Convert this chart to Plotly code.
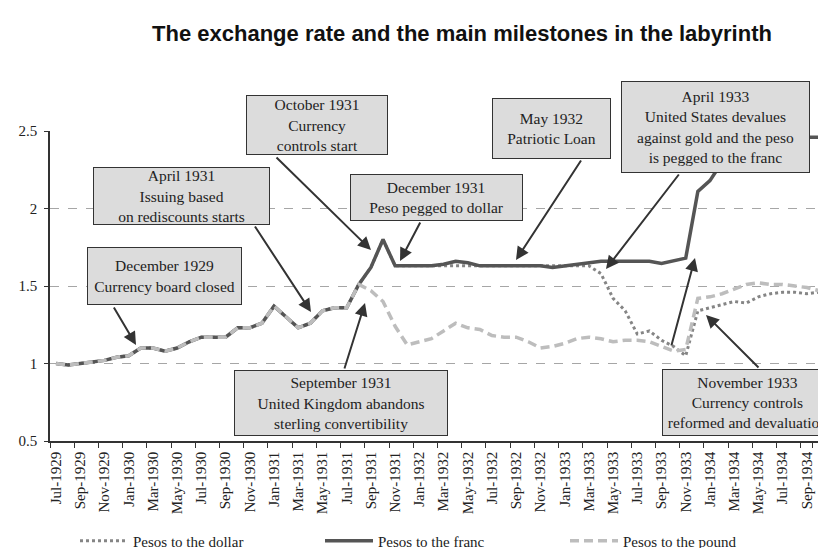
import plotly.graph_objects as go

months = [
    "Jul-1929", "Aug-1929", "Sep-1929", "Oct-1929", "Nov-1929", "Dec-1929",
    "Jan-1930", "Feb-1930", "Mar-1930", "Apr-1930", "May-1930", "Jun-1930",
    "Jul-1930", "Aug-1930", "Sep-1930", "Oct-1930", "Nov-1930", "Dec-1930",
    "Jan-1931", "Feb-1931", "Mar-1931", "Apr-1931", "May-1931", "Jun-1931",
    "Jul-1931", "Aug-1931", "Sep-1931", "Oct-1931", "Nov-1931", "Dec-1931",
    "Jan-1932", "Feb-1932", "Mar-1932", "Apr-1932", "May-1932", "Jun-1932",
    "Jul-1932", "Aug-1932", "Sep-1932", "Oct-1932", "Nov-1932", "Dec-1932",
    "Jan-1933", "Feb-1933", "Mar-1933", "Apr-1933", "May-1933", "Jun-1933",
    "Jul-1933", "Aug-1933", "Sep-1933", "Oct-1933", "Nov-1933", "Dec-1933",
    "Jan-1934", "Feb-1934", "Mar-1934", "Apr-1934", "May-1934", "Jun-1934",
    "Jul-1934", "Aug-1934", "Sep-1934", "Oct-1934",
]
tick_labels = months[::2]

pesos_dollar = [
    1.00, 0.99, 1.00, 1.01, 1.02, 1.04, 1.05, 1.10, 1.10, 1.08,
    1.10, 1.14, 1.17, 1.17, 1.17, 1.23, 1.23, 1.26, 1.37, 1.30,
    1.23, 1.26, 1.34, 1.36, 1.36, 1.51, 1.62, 1.80, 1.63, 1.63,
    1.63, 1.63, 1.63, 1.63, 1.63, 1.63, 1.63, 1.63, 1.63, 1.63,
    1.63, 1.63, 1.63, 1.63, 1.63, 1.58, 1.42, 1.34, 1.19, 1.21,
    1.15, 1.11, 1.05, 1.34, 1.36, 1.38, 1.40, 1.39, 1.43, 1.45,
    1.46, 1.46, 1.45, 1.46,
]
pesos_franc = [
    1.00, 0.99, 1.00, 1.01, 1.02, 1.04, 1.05, 1.10, 1.10, 1.08,
    1.10, 1.14, 1.17, 1.17, 1.17, 1.23, 1.23, 1.26, 1.37, 1.30,
    1.23, 1.26, 1.34, 1.36, 1.36, 1.51, 1.62, 1.80, 1.63, 1.63,
    1.63, 1.63, 1.64, 1.66, 1.65, 1.63, 1.63, 1.63, 1.63, 1.63,
    1.63, 1.62, 1.63, 1.64, 1.65, 1.66, 1.66, 1.66, 1.66, 1.66,
    1.645, 1.66, 1.68, 2.11, 2.18, 2.30, 2.36, 2.40, 2.42, 2.44,
    2.45, 2.46, 2.46, 2.46,
]
pesos_pound = [
    1.00, 0.99, 1.00, 1.01, 1.02, 1.04, 1.05, 1.10, 1.10, 1.08,
    1.10, 1.14, 1.17, 1.17, 1.17, 1.23, 1.23, 1.26, 1.37, 1.30,
    1.23, 1.26, 1.34, 1.36, 1.36, 1.51, 1.47, 1.40, 1.24, 1.12,
    1.14, 1.16, 1.21, 1.26, 1.23, 1.22, 1.18, 1.17, 1.17, 1.14,
    1.10, 1.11, 1.13, 1.16, 1.17, 1.16, 1.14, 1.15, 1.15, 1.14,
    1.11, 1.08, 1.09, 1.42, 1.43, 1.45, 1.48, 1.51, 1.52, 1.51,
    1.51, 1.50, 1.49, 1.47,
]

SERIF = "Liberation Serif, Times New Roman, serif"

# plot-area geometry (pixels)
L, R, T, B = 42, 817, 123, 433
W, H = R - L, B - T


def px(x):
    return (x - L) / W


def py(y):
    return (B - y) / H


fig = go.Figure()
fig.add_trace(go.Scatter(
    x=months, y=pesos_dollar, mode="lines", name="Pesos to the dollar",
    line=dict(color="#858585", width=3, dash="3px,3px")))
fig.add_trace(go.Scatter(
    x=months, y=pesos_franc, mode="lines", name="Pesos to the franc",
    line=dict(color="#555555", width=3.5)))
fig.add_trace(go.Scatter(
    x=months, y=pesos_pound, mode="lines", name="Pesos to the pound",
    line=dict(color="#bdbdbd", width=3.5, dash="9px,5px")))

boxes = [
    ("December 1929<br>Currency board closed", 79, 234, 239, 297),
    ("April 1931<br>Issuing based<br>on rediscounts starts", 85, 262, 159, 217),
    ("October 1931<br>Currency<br>controls start", 238, 380, 87, 147),
    ("December 1931<br>Peso pegged to dollar", 342, 515, 166, 213),
    ("May 1932<br>Patriotic Loan", 484, 603, 90, 151),
    ("April 1933<br>United States devalues<br>against gold and the peso<br>is pegged to the franc", 613, 802, 73, 165),
    ("September 1931<br>United Kingdom abandons<br>sterling convertibility", 226, 440, 362, 428),
    ("November 1933<br>Currency controls<br>reformed and devaluation", 654, 825, 361, 428),
]

# arrows: (head_x, head_y, tail_x, tail_y) in pixels
arrows = [
    (128, 337, 105, 298),
    (303, 304, 246, 217),
    (363, 242, 267, 148),
    (392, 253, 413, 213),
    (508, 252, 574, 151),
    (598, 261, 672, 165),
    (687, 250, 663, 339),
    (698, 307, 752, 361),
    (357, 295, 336, 362),
]

annotations = []
for hx, hy, tx, ty in arrows:
    annotations.append(dict(
        text="", xref="paper", yref="paper", x=px(hx), y=py(hy),
        ax=tx - hx, ay=ty - hy, showarrow=True, arrowhead=2,
        arrowsize=1.3, arrowwidth=2, arrowcolor="#333333", standoff=0))

for text, x0, x1, y0, y1 in boxes:
    annotations.append(dict(
        text=text, xref="paper", yref="paper",
        x=px((x0 + x1) / 2), y=py((y0 + y1) / 2),
        xanchor="center", yanchor="middle", showarrow=False,
        width=x1 - x0 - 2, height=y1 - y0 - 2, align="center", valign="middle",
        bgcolor="#dcdcdc", bordercolor="#333333", borderwidth=1, borderpad=0,
        font=dict(family=SERIF, size=15.5, color="#222222")))

fig.update_layout(
    width=826, height=548, autosize=False,
    margin=dict(l=L, r=826 - R, t=T, b=548 - B, autoexpand=False),
    paper_bgcolor="white", plot_bgcolor="white",
    title=dict(
        text="<b>The exchange rate and the main milestones in the labyrinth</b>",
        x=454 / 826, xanchor="center", y=1 - 25 / 548, yanchor="middle",
        font=dict(family="Liberation Sans, Arial, sans-serif", size=22, color="#111111")),
    showlegend=True,
    legend=dict(
        orientation="h", x=px(67), xanchor="left", y=py(533), yanchor="middle",
        font=dict(family=SERIF, size=15, color="#222222"),
        itemwidth=48, entrywidth=182, entrywidthmode="pixels",
        bgcolor="rgba(0,0,0,0)"),
    annotations=annotations,
)

fig.update_xaxes(
    type="category", range=[-0.5, len(months) - 0.5],
    tickmode="array", tickvals=tick_labels, ticktext=tick_labels,
    tickson="boundaries", ticks="outside", ticklen=5, tickwidth=1.3, tickcolor="#333333",
    tickangle=-90, tickfont=dict(family=SERIF, size=15, color="#222222"),
    ticklabelstandoff=3,
    showline=True, linecolor="#333333", linewidth=1.5,
    showgrid=False, zeroline=False, fixedrange=True)

fig.update_yaxes(
    range=[0.5, 2.5], tickvals=[0.5, 1, 1.5, 2, 2.5], ticktext=["0.5", "1", "1.5", "2", "2.5"],
    ticks="outside", ticklen=4, tickwidth=1.3, tickcolor="#333333",
    tickfont=dict(family=SERIF, size=15, color="#222222"),
    ticklabelstandoff=4,
    showline=True, linecolor="#333333", linewidth=1.5,
    showgrid=True, gridcolor="#a6a6a6", gridwidth=1, griddash="dash",
    zeroline=False, fixedrange=True)

fig.write_html("out.html")
